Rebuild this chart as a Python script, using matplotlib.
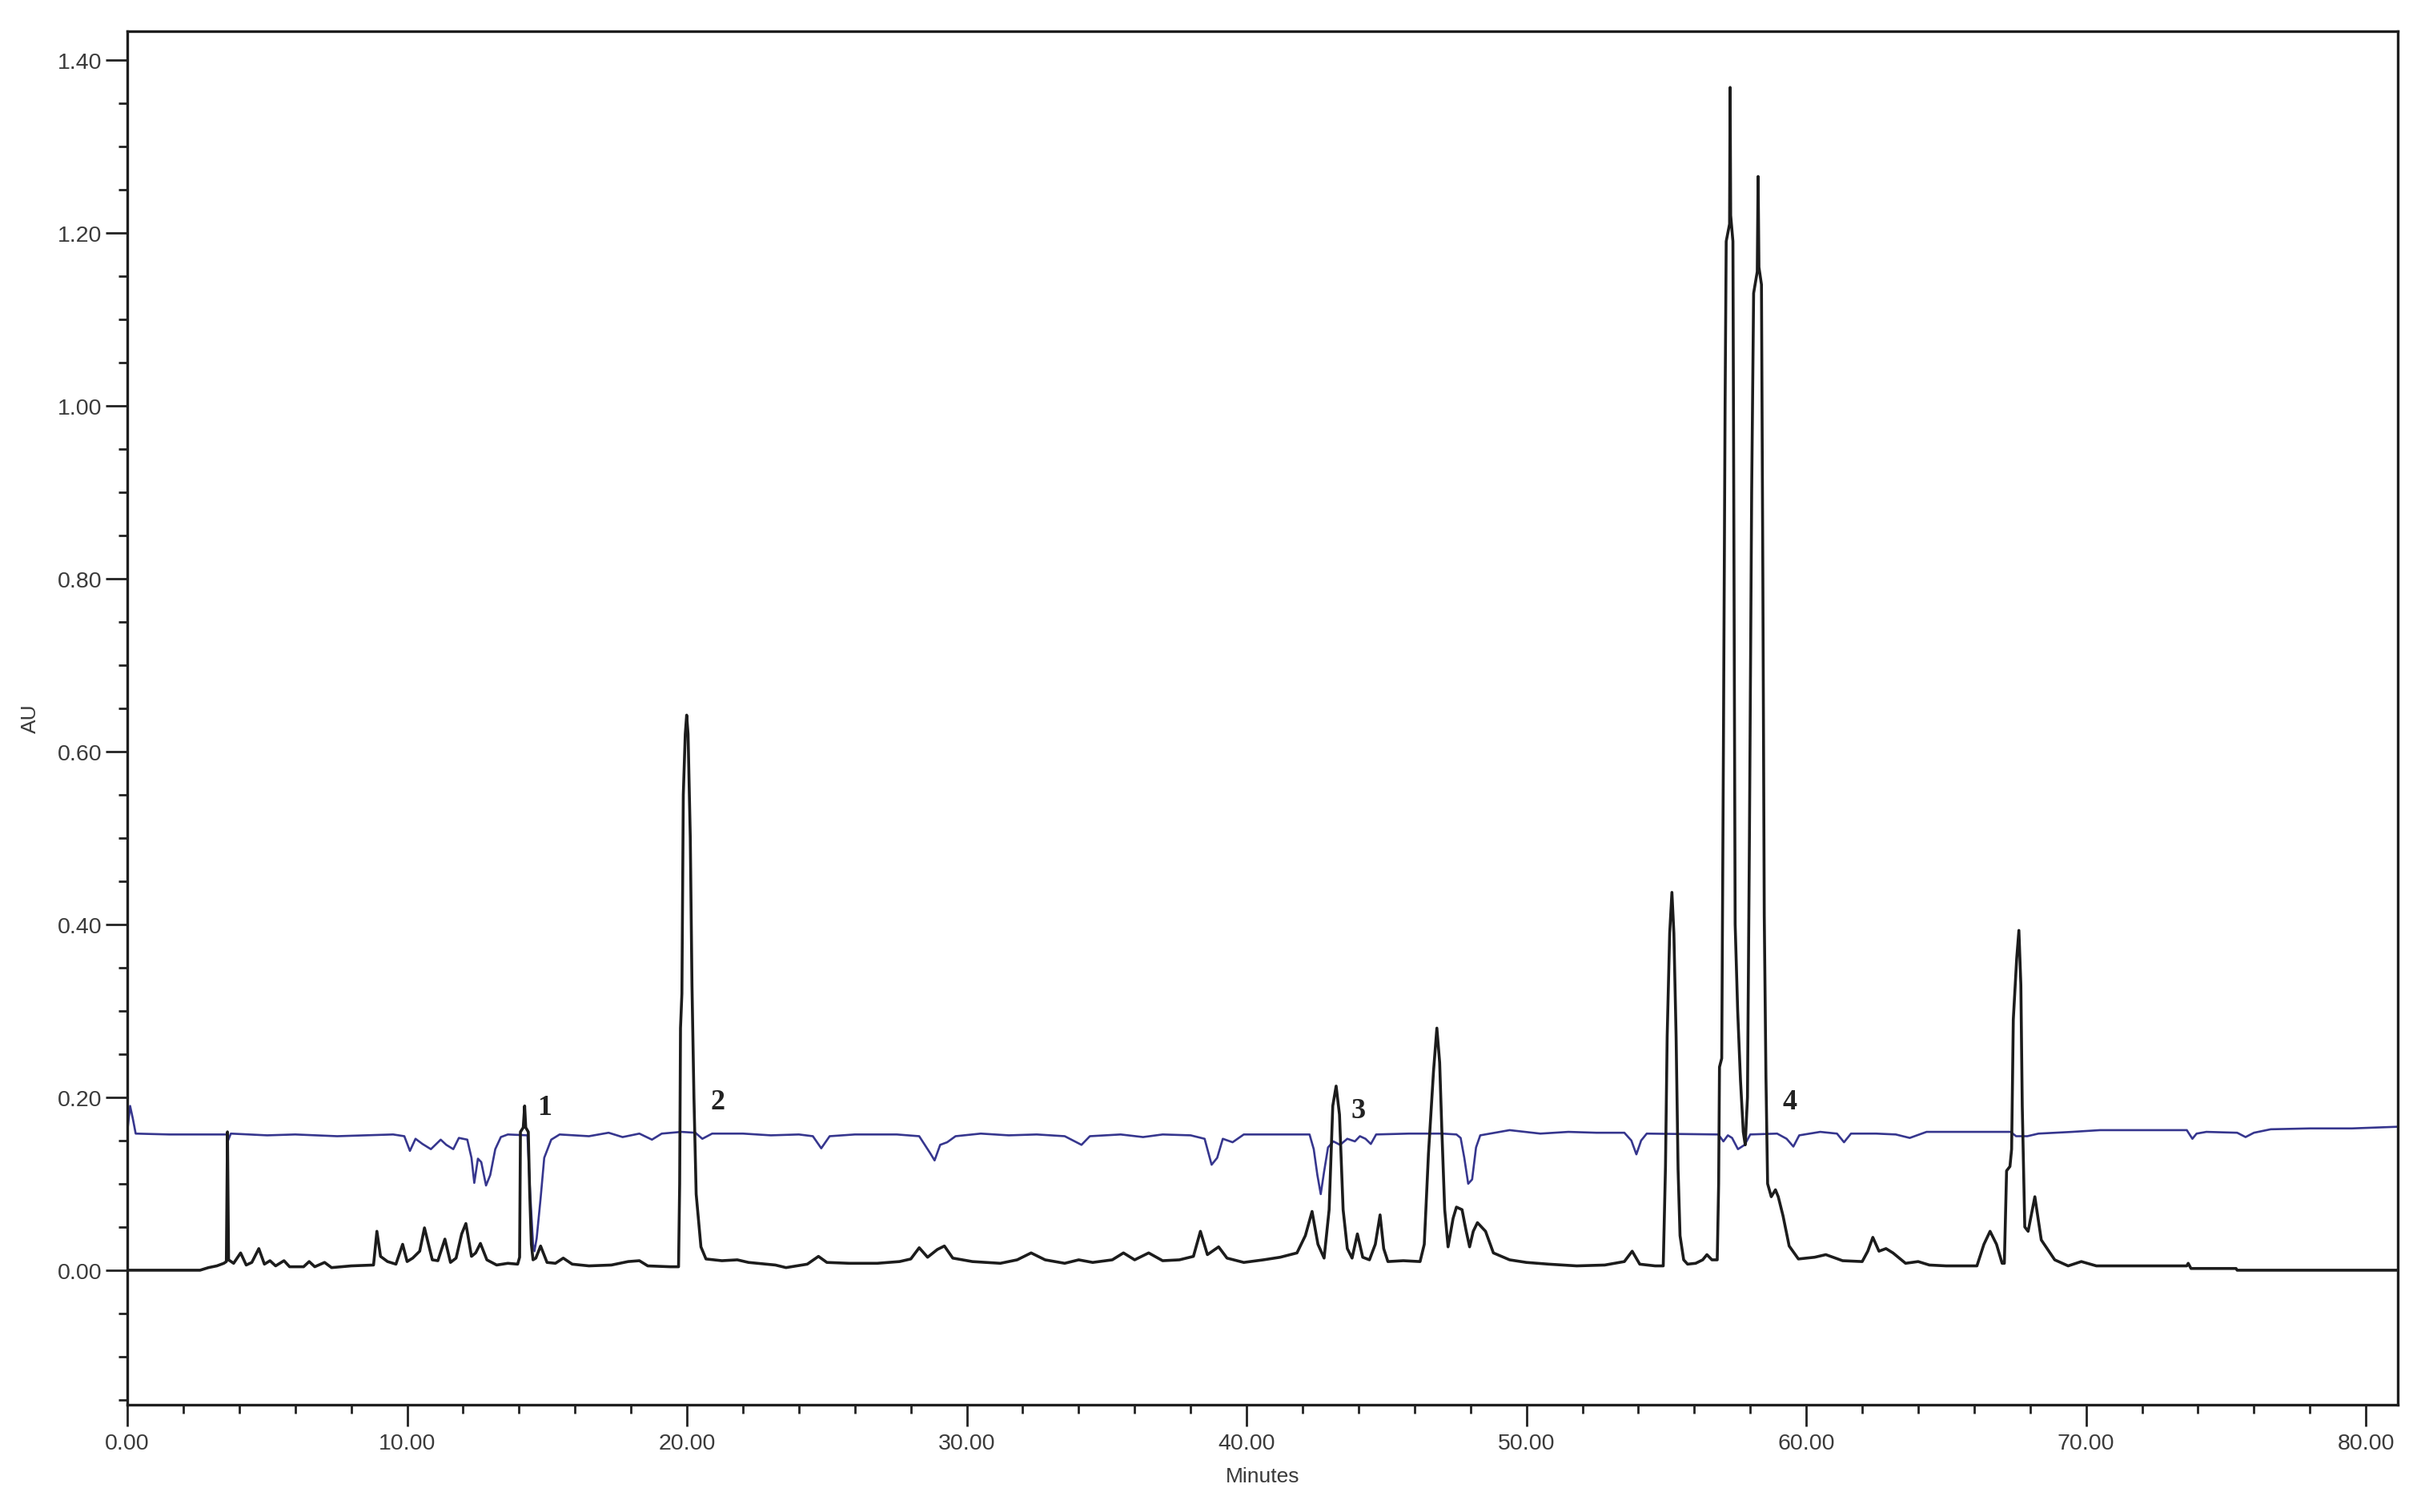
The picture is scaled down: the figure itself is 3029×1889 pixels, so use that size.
import matplotlib
matplotlib.use("Agg")
import matplotlib.pyplot as plt
from matplotlib.ticker import MultipleLocator, FormatStrFormatter

# ---- data (time in minutes, AU) ----
black_t = [0.0, 2.6, 2.9, 3.2, 3.45, 3.54, 3.58, 3.62, 3.8, 4.05, 4.25, 4.45, 4.7, 4.9, 5.1, 5.3, 5.6, 5.8,
           6.3, 6.5, 6.7, 7.05, 7.3, 8.0, 8.8, 8.92, 9.05, 9.3, 9.6, 9.84, 10.0, 10.2, 10.45, 10.62, 10.9,
           11.1, 11.35, 11.55, 11.75, 11.95, 12.1, 12.3, 12.45, 12.62, 12.85, 13.2, 13.6, 13.95,
           14.02, 14.05, 14.15, 14.2, 14.24, 14.33, 14.38, 14.44, 14.5, 14.6, 14.77, 15.0, 15.3, 15.58,
           15.9, 16.5, 17.3, 17.9, 18.3, 18.6, 19.4, 19.7,
           19.74, 19.77, 19.82, 19.87, 19.94, 19.99, 20.04, 20.12, 20.18, 20.25, 20.33, 20.5, 20.68,
           21.25, 21.8, 22.2, 23.16, 23.54, 24.3, 24.7, 25.0, 25.8, 26.8, 27.6, 28.0, 28.3, 28.6, 28.95,
           29.2, 29.5, 30.2, 31.2, 31.8, 32.3, 32.8, 33.5, 34.0, 34.5, 35.2, 35.6, 36.0, 36.5, 37.0,
           37.6, 38.1, 38.35, 38.6, 39.0, 39.3, 39.9, 40.6, 41.2, 41.8, 42.1, 42.34, 42.55, 42.77,
           42.95, 43.08, 43.2, 43.32, 43.45, 43.6, 43.77, 43.96, 44.15, 44.39, 44.6, 44.77, 44.9, 45.05,
           45.6, 46.2, 46.35, 46.5, 46.68, 46.8, 46.9, 46.98, 47.08, 47.2, 47.38, 47.5, 47.7, 47.85,
           47.97, 48.1, 48.25, 48.54, 48.82, 49.4, 50.0, 50.8, 51.8, 52.8, 53.5, 53.78, 54.05, 54.6,
           54.89, 54.97, 55.03, 55.12, 55.2, 55.27, 55.35, 55.42, 55.49, 55.62, 55.76, 56.05, 56.3,
           56.45, 56.63, 56.82, 56.87, 56.9, 56.98, 57.04, 57.1, 57.14, 57.26, 57.28, 57.30, 57.38,
           57.42, 57.46, 57.55, 57.65, 57.75, 57.82, 57.9, 57.97, 58.05, 58.12, 58.25, 58.28, 58.31,
           58.4, 58.45, 58.5, 58.56, 58.62, 58.75, 58.9, 59.0, 59.17, 59.39, 59.72, 60.3, 60.7, 61.3,
           62.0, 62.2, 62.38, 62.6, 62.85, 63.1, 63.55, 64.0, 64.4, 65.0, 66.1, 66.35, 66.57, 66.8,
           67.0, 67.08, 67.16, 67.28, 67.34, 67.4, 67.52, 67.6, 67.67, 67.72, 67.81, 67.93, 68.08,
           68.17, 68.4, 68.88, 69.36, 69.83, 70.37, 73.6, 73.65, 73.75, 75.36, 75.4, 81.2]
black_au = [0.0, 0.0, 0.003, 0.005, 0.008, 0.01, 0.16, 0.012, 0.008, 0.02, 0.006, 0.009, 0.025, 0.007,
            0.011, 0.005, 0.011, 0.004, 0.004, 0.01, 0.004, 0.009, 0.003, 0.005, 0.006, 0.045, 0.016,
            0.01, 0.007, 0.03, 0.01, 0.014, 0.022, 0.049, 0.012, 0.011, 0.036, 0.009, 0.014, 0.042,
            0.054, 0.016, 0.02, 0.031, 0.012, 0.006, 0.008, 0.007,
            0.015, 0.16, 0.165, 0.19, 0.165, 0.16, 0.09, 0.03, 0.012, 0.014, 0.028, 0.009, 0.008, 0.014,
            0.007, 0.005, 0.006, 0.01, 0.011, 0.005, 0.004, 0.004,
            0.1, 0.28, 0.32, 0.55, 0.62, 0.642, 0.62, 0.5, 0.33, 0.2, 0.088, 0.027, 0.013,
            0.011, 0.012, 0.009, 0.006, 0.003, 0.007, 0.016, 0.009, 0.008, 0.008, 0.01, 0.013, 0.026,
            0.015, 0.024, 0.028, 0.014, 0.01, 0.008, 0.012, 0.02, 0.012, 0.008, 0.012, 0.009, 0.012,
            0.02, 0.012, 0.02, 0.011, 0.012, 0.016, 0.045, 0.018, 0.027, 0.014, 0.009, 0.012, 0.015,
            0.02, 0.04, 0.068, 0.03, 0.014, 0.07, 0.19, 0.213, 0.18, 0.07, 0.025, 0.014, 0.042, 0.015,
            0.012, 0.03, 0.064, 0.025, 0.01, 0.011, 0.01, 0.03, 0.135, 0.23, 0.28, 0.24, 0.16, 0.07,
            0.027, 0.06, 0.073, 0.07, 0.045, 0.027, 0.045, 0.055, 0.045, 0.02, 0.012, 0.009, 0.007,
            0.005, 0.006, 0.01, 0.022, 0.007, 0.005, 0.005, 0.12, 0.27, 0.39, 0.437, 0.39, 0.27, 0.117,
            0.04, 0.012, 0.007, 0.008, 0.012, 0.018, 0.012, 0.012, 0.10, 0.235, 0.245, 0.6, 1.0, 1.19,
            1.21, 1.368, 1.22, 1.19, 0.8, 0.40, 0.3, 0.22, 0.16, 0.145, 0.2, 0.5, 0.9, 1.13, 1.155,
            1.265, 1.16, 1.14, 0.8, 0.41, 0.224, 0.10, 0.085, 0.093, 0.085, 0.063, 0.028, 0.013, 0.015,
            0.018, 0.011, 0.01, 0.022, 0.038, 0.022, 0.025, 0.02, 0.008, 0.01, 0.006, 0.005, 0.005,
            0.03, 0.045, 0.03, 0.008, 0.008, 0.115, 0.12, 0.14, 0.29, 0.36, 0.393, 0.33, 0.19, 0.05,
            0.045, 0.07, 0.085, 0.035, 0.012, 0.005, 0.01, 0.005, 0.005, 0.008, 0.002, 0.002, 0.0, 0.0]

blue_t = [0.0, 0.1, 0.2, 0.3, 1.5, 3.0, 3.55, 3.6, 3.7, 5.0, 6.0, 7.5, 8.5, 9.5, 9.9, 10.1, 10.3, 10.55,
          10.85, 11.2, 11.4, 11.65, 11.85, 12.15, 12.3, 12.4, 12.53, 12.65, 12.82, 12.97, 13.15, 13.35,
          13.6, 14.3, 14.38, 14.5, 14.55, 14.63, 14.77, 14.9, 15.15, 15.45, 16.5, 17.2, 17.7, 18.3,
          18.75, 19.1, 19.8, 20.3, 20.55, 20.9, 22.0, 23.0, 24.0, 24.5, 24.8, 25.1, 26.0, 27.5, 28.3,
          28.7, 28.85, 29.05, 29.3, 29.6, 30.5, 31.5, 32.5, 33.5, 34.1, 34.4, 35.5, 36.3, 37.0, 38.0,
          38.5, 38.75, 38.95, 39.15, 39.5, 39.9, 42.25, 42.4, 42.53, 42.65, 42.77, 42.91, 43.1, 43.34,
          43.6, 43.87, 44.05, 44.25, 44.44, 44.63, 45.8, 47.0, 47.5, 47.65, 47.78, 47.92, 48.06, 48.2,
          48.35, 49.4, 50.5, 51.5, 52.5, 53.5, 53.75, 53.93, 54.1, 54.3, 56.86, 57.04, 57.2, 57.35,
          57.56, 57.8, 58.0, 58.96, 59.3, 59.54, 59.75, 60.5, 61.1, 61.35, 61.6, 62.5, 63.2, 63.7,
          64.3, 67.3, 67.5, 67.9, 68.3, 69.5, 70.5, 73.6, 73.8, 73.95, 74.3, 75.4, 75.7, 76.0, 76.6,
          78.0, 79.5, 81.2]
blue_au = [0.16, 0.19, 0.175, 0.158, 0.157, 0.157, 0.157, 0.15, 0.158, 0.156, 0.157, 0.155, 0.156,
           0.157, 0.155, 0.138, 0.152, 0.146, 0.14, 0.151, 0.145, 0.14, 0.153, 0.151, 0.13, 0.101,
           0.129, 0.125, 0.098, 0.11, 0.14, 0.154, 0.157, 0.156, 0.1, 0.03, 0.022, 0.037, 0.083, 0.13,
           0.151, 0.157, 0.155, 0.159, 0.154, 0.158, 0.151, 0.158, 0.16, 0.159, 0.152, 0.158, 0.158,
           0.156, 0.157, 0.155, 0.141, 0.155, 0.157, 0.157, 0.155, 0.135, 0.127, 0.145, 0.148, 0.155,
           0.158, 0.156, 0.157, 0.155, 0.145, 0.155, 0.157, 0.154, 0.157, 0.156, 0.152, 0.122, 0.13,
           0.152, 0.148, 0.157, 0.157, 0.14, 0.11, 0.088, 0.114, 0.142, 0.149, 0.145, 0.152, 0.149,
           0.155, 0.152, 0.146, 0.157, 0.158, 0.158, 0.157, 0.153, 0.13, 0.1, 0.105, 0.142, 0.156,
           0.162, 0.158, 0.16, 0.159, 0.159, 0.15, 0.134, 0.15, 0.158, 0.157, 0.149, 0.156, 0.153,
           0.14, 0.145, 0.157, 0.158, 0.152, 0.143, 0.156, 0.16, 0.158, 0.148, 0.158, 0.158, 0.157,
           0.153, 0.16, 0.16, 0.155, 0.155, 0.158, 0.16, 0.162, 0.162, 0.152, 0.158, 0.16, 0.159,
           0.154, 0.159, 0.163, 0.164, 0.164, 0.166]

peak_labels = ["1", "2", "3", "4"]
peak_label_t = [14.9, 21.1, 44.0, 59.4]
peak_label_au = [0.188, 0.195, 0.185, 0.195]

x_major = [0, 10, 20, 30, 40, 50, 60, 70, 80]
y_major = [0.0, 0.2, 0.4, 0.6, 0.8, 1.0, 1.2, 1.4]

# ---- figure ----
W, H = 3029, 1890
fig = plt.figure(figsize=(W / 100, H / 100), dpi=100)
ax = fig.add_axes([159 / W, 1 - 1756 / H, (2995 - 159) / W, (1756 - 40) / H])

ax.plot(blue_t, blue_au, color="#36368e", lw=1.9, solid_joinstyle="round")
ax.plot(black_t, black_au, color="#1c1c1c", lw=2.6, solid_joinstyle="round")

for lab, t, a in zip(peak_labels, peak_label_t, peak_label_au):
    ax.text(t, a, lab, fontsize=26, fontweight="bold", family="Liberation Serif",
            color="#222222", ha="center", va="center")

ax.set_xlim(0, 81.14)
ax.set_ylim(-0.1556, 1.433)
ax.set_xticks(x_major)
ax.set_yticks(y_major)
ax.xaxis.set_minor_locator(MultipleLocator(2))
ax.yaxis.set_minor_locator(MultipleLocator(0.05))
ax.xaxis.set_major_formatter(FormatStrFormatter("%.2f"))
ax.yaxis.set_major_formatter(FormatStrFormatter("%.2f"))

for lbl in ax.get_xticklabels() + ax.get_yticklabels():
    lbl.set_family("Liberation Sans")
ax.tick_params(axis="both", which="major", length=19.5, width=2.0, color="#222222",
               labelsize=20.5, labelcolor="#3a3a3a")
ax.tick_params(axis="both", which="minor", length=8, width=2.0, color="#222222")
ax.tick_params(axis="x", which="major", pad=5.5)
ax.tick_params(axis="y", which="major", pad=3)

for sp in ax.spines.values():
    sp.set_linewidth(2.4)
    sp.set_color("#1e1e1e")

ax.set_xlabel("Minutes", fontsize=19, family="Liberation Sans", color="#3a3a3a", va="top")
ax.set_ylabel("AU", fontsize=19, family="Liberation Sans", color="#3a3a3a")
ax.xaxis.set_label_coords(0.5, -0.0449)
ax.yaxis.set_label_coords(-0.0384, 0.5)

fig.savefig("out.png", dpi=100, facecolor="white")
